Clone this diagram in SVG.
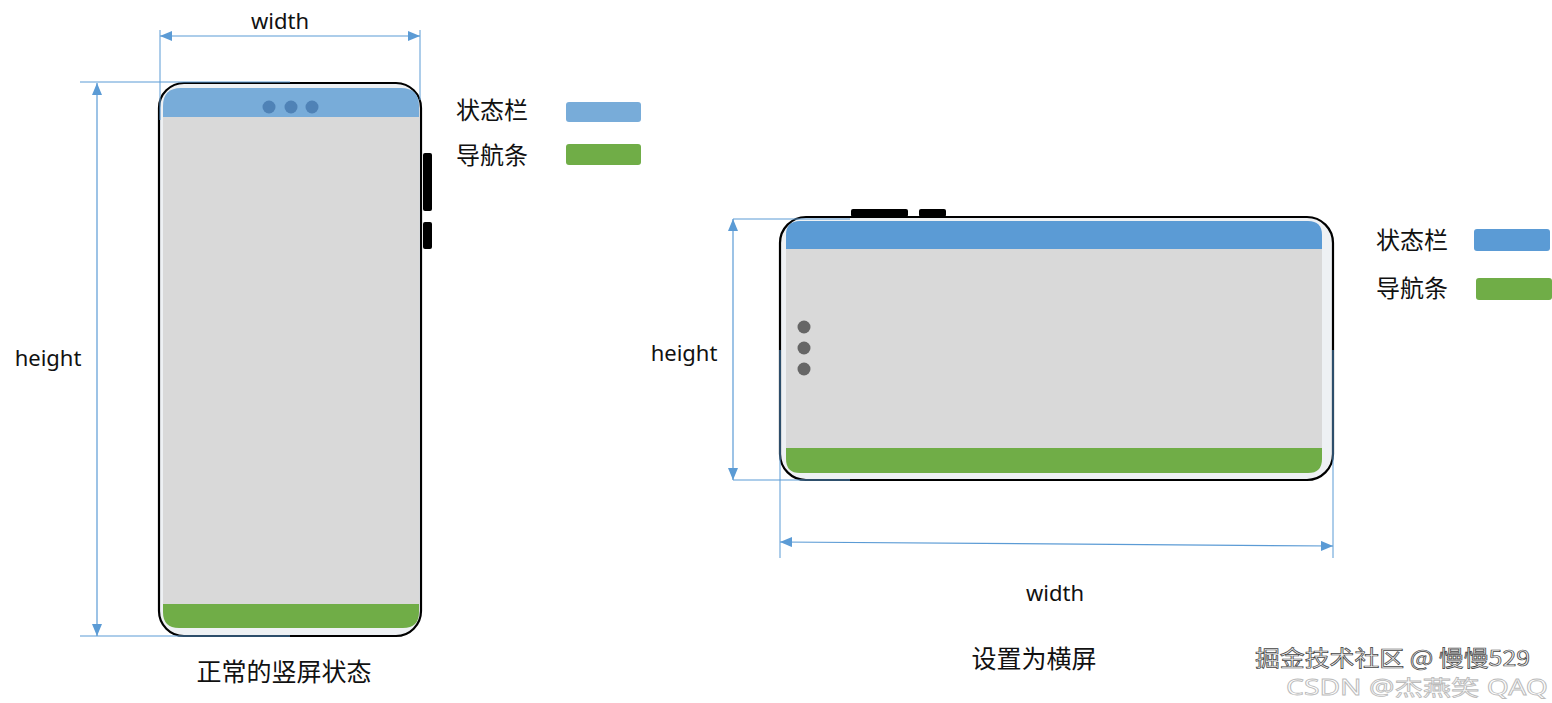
<svg xmlns="http://www.w3.org/2000/svg" width="1552" height="703" viewBox="0 0 1552 703">
<style>
.t{font-family:"Noto Sans","Noto Sans CJK SC",sans-serif;fill:#111}
.en{font-size:22px}
.cn{font-size:24px;font-family:"Noto Sans CJK SC","Noto Sans",sans-serif}
.cap{font-size:25px}
.dim{stroke:#5b9bd5;stroke-width:1.2;fill:none}
.ext{stroke:#5b9bd5;stroke-width:1;fill:none}
.frame{fill:#eef1f4;stroke:#000;stroke-width:2.2}
.gray{fill:#d9d9d9}
.green{fill:#70ad47}
.btn{fill:#000}
</style>
<defs>
<marker id="ah" viewBox="0 0 12 10" refX="12" refY="5" markerWidth="12" markerHeight="10" markerUnits="userSpaceOnUse" orient="auto-start-reverse">
<path d="M0,0 L12,5 L0,10 z" fill="#5b9bd5"/>
</marker>
</defs>
<rect width="1552" height="703" fill="#fff"/>

<g id="portrait-phone">
<rect x="423" y="153" width="9" height="58" rx="2" class="btn"/>
<rect x="423" y="222" width="9" height="27" rx="2" class="btn"/>
<rect x="159" y="83" width="262" height="553" rx="25" class="frame"/>
<path d="M163,117 V106 Q163,88 181,88 H401 Q419,88 419,106 V117 Z" fill="#78acd9"/>
<rect x="163" y="117" width="256" height="487" class="gray"/>
<path d="M163,604 H419 V612 Q419,628 403,628 H179 Q163,628 163,612 Z" class="green"/>
<circle cx="269" cy="107" r="6.5" fill="#4f82b6"/>
<circle cx="291" cy="107" r="6.5" fill="#4f82b6"/>
<circle cx="312" cy="107" r="6.5" fill="#4f82b6"/>
</g>

<g id="landscape-phone">
<rect x="851" y="209" width="57" height="8" rx="2" class="btn"/>
<rect x="919" y="209" width="27" height="8" rx="2" class="btn"/>
<rect x="780" y="217" width="553" height="263" rx="26" class="frame"/>
<path d="M786,249 V235 Q786,221 800,221 H1308 Q1322,221 1322,235 V249 Z" fill="#5b9bd5"/>
<rect x="786" y="249" width="536" height="199" class="gray"/>
<path d="M786,448 H1322 V459 Q1322,473 1308,473 H800 Q786,473 786,459 Z" class="green"/>
<circle cx="804" cy="327" r="6.5" fill="#666"/>
<circle cx="804" cy="348" r="6.5" fill="#666"/>
<circle cx="804" cy="369" r="6.5" fill="#666"/>
</g>

<g id="connectors">
<line x1="160" y1="30" x2="160" y2="120" class="ext"/>
<line x1="420" y1="30" x2="420" y2="100" class="ext"/>
<line x1="160" y1="36" x2="420" y2="36" class="dim" marker-start="url(#ah)" marker-end="url(#ah)"/>
<line x1="80" y1="82" x2="290" y2="82" class="ext"/>
<line x1="80" y1="636" x2="290" y2="636" class="ext"/>
<line x1="97" y1="83" x2="97" y2="636" class="dim" marker-start="url(#ah)" marker-end="url(#ah)"/>

<line x1="733" y1="219" x2="850" y2="219" class="ext"/>
<line x1="733" y1="480" x2="850" y2="480" class="ext"/>
<line x1="733" y1="219" x2="733" y2="480" class="dim" marker-start="url(#ah)" marker-end="url(#ah)"/>
<line x1="780" y1="350" x2="780" y2="558" class="ext"/>
<line x1="1333" y1="350" x2="1333" y2="558" class="ext"/>
<line x1="780" y1="542" x2="1333" y2="546" class="dim" marker-start="url(#ah)" marker-end="url(#ah)"/>
</g>

<g id="labels">
<text x="280" y="29" text-anchor="middle" class="t en">width</text>
<text x="48" y="366" text-anchor="middle" class="t en">height</text>
<text x="684" y="361" text-anchor="middle" class="t en">height</text>
<text x="1055" y="601" text-anchor="middle" class="t en">width</text>
<text x="284" y="681" text-anchor="middle" class="t cn cap">正常的竖屏状态</text>
<text x="1034" y="668" text-anchor="middle" class="t cn cap">设置为横屏</text>
</g>

<g id="legend-portrait">
<text x="456" y="119" class="t cn">状态栏</text>
<rect x="566" y="102" width="75" height="20" rx="3" fill="#78acd9"/>
<text x="456" y="164" class="t cn">导航条</text>
<rect x="566" y="144" width="75" height="21" rx="3" fill="#70ad47"/>
</g>

<g id="legend-landscape">
<text x="1376" y="249" class="t cn">状态栏</text>
<rect x="1474" y="229" width="76" height="22" rx="3" fill="#5b9bd5"/>
<text x="1376" y="297" class="t cn">导航条</text>
<rect x="1476" y="278" width="76" height="22" rx="3" fill="#70ad47"/>
</g>

<g id="watermark">
<text x="1286" y="695" font-family="Noto Sans, Noto Sans CJK SC, sans-serif" font-size="21" fill="#fff" stroke="#bbb" stroke-width="0.8" textLength="262" lengthAdjust="spacingAndGlyphs">CSDN @杰燕笑 QAQ</text>
<text x="1255" y="666" font-family="Noto Sans CJK SC, Noto Sans, sans-serif" font-size="22" fill="#eee" stroke="#444" stroke-width="0.7" textLength="275" lengthAdjust="spacingAndGlyphs">掘金技术社区 @ 慢慢529</text>
</g>
</svg>
